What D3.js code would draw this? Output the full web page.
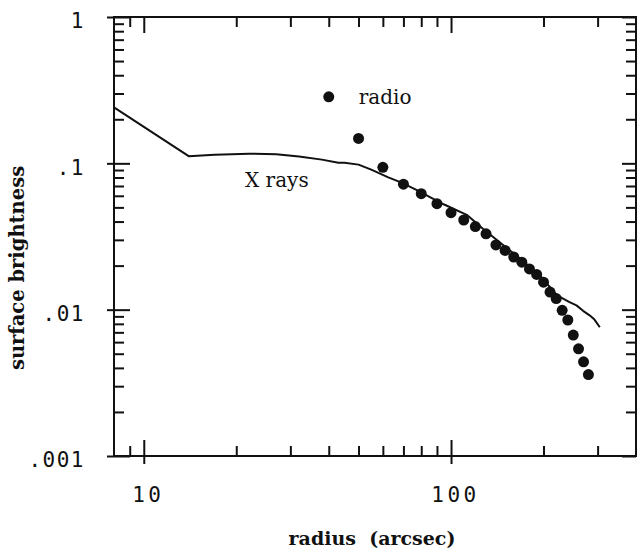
<!DOCTYPE html>
<html>
<head>
<meta charset="utf-8">
<script src="https://cdn.jsdelivr.net/npm/d3@7"></script>
<style>
  body { margin: 0; background: #fff; }
  svg { display: block; }
  .tick text { font-family: "DejaVu Sans Mono", monospace; font-size: 21px; fill: #111; }
  .tick line { stroke: #111; stroke-width: 2; }
  .domain { display: none; }
</style>
</head>
<body>
<script>
// radius in arcsec, surface brightness (normalised)
var radioR = [40, 50, 60, 70, 80, 90, 100, 110, 120, 130, 140, 150, 160, 170,
              180, 190, 200, 210, 220, 230, 240, 250, 260, 270, 280];
var radioS = [0.285, 0.148, 0.094, 0.072, 0.062, 0.053, 0.046, 0.041, 0.037, 0.033,
              0.0277, 0.0254, 0.0229, 0.0211, 0.019, 0.0174, 0.0154, 0.0132, 0.0119,
              0.0099, 0.0085, 0.0067, 0.0054, 0.0044, 0.0036];

var xrayR = [8, 14, 17, 22, 27, 32, 38, 43, 45, 50, 55, 62.5, 69, 78, 86, 95,
             112.5, 127, 146, 168, 181, 195, 207.5, 221.5, 243, 256, 269, 282.5, 293, 305];
var xrayS = [0.241, 0.112, 0.1146, 0.1164, 0.1155, 0.1115, 0.106, 0.101, 0.101, 0.098,
             0.0905, 0.0802, 0.0738, 0.0651, 0.0583, 0.0523, 0.0445, 0.0357, 0.0282,
             0.0223, 0.0195, 0.0171, 0.01466, 0.01252, 0.01127, 0.0107, 0.00982,
             0.00915, 0.00855, 0.00758];

var xMajor = [10, 100],
    xLabels = ["10", "100"],
    xMinor = [9, 20, 30, 40, 50, 60, 70, 80, 90, 200, 300];
var yMajor = [0.001, 0.01, 0.1, 1],
    yLabels = [".001", ".01", ".1", "1"],
    yMinor = [0.002, 0.003, 0.004, 0.005, 0.006, 0.007, 0.008, 0.009,
              0.02, 0.03, 0.04, 0.05, 0.06, 0.07, 0.08, 0.09,
              0.2, 0.3, 0.4, 0.5, 0.6, 0.7, 0.8, 0.9];

var W = 639, H = 548,
    x0 = 114, x1 = 636, y0 = 17, y1 = 456;   // plot frame

var svg = d3.select('body').append('svg')
    .attr('width', W)
    .attr('height', H);

var x = d3.scaleLog().domain([8, 400]).range([x0, x1]);
var y = d3.scaleLog().domain([0.001, 1]).range([y1, y0]);

// bottom
svg.append('g').attr('transform', 'translate(0,' + y1 + ')')
    .call(d3.axisBottom(x).tickValues(xMinor).tickSize(-10).tickFormat(''));
svg.append('g').attr('transform', 'translate(0,' + y1 + ')')
    .call(d3.axisBottom(x).tickValues(xMajor).tickSize(-16).tickPadding(31)
        .tickFormat(function(d, i) { return xLabels[i]; }))
    .call(function(g) {
        g.selectAll('.tick line').attr('y1', 8);
        g.selectAll('.tick text').attr('letter-spacing', 3.5).attr('dx', 4);
    });

// top
svg.append('g').attr('transform', 'translate(0,' + y0 + ')')
    .call(d3.axisTop(x).tickValues(xMinor).tickSize(-10).tickFormat(''));
svg.append('g').attr('transform', 'translate(0,' + y0 + ')')
    .call(d3.axisTop(x).tickValues(xMajor).tickSize(-16).tickFormat(''));

// left
svg.append('g').attr('transform', 'translate(' + x0 + ',0)')
    .call(d3.axisLeft(y).tickValues(yMinor).tickSize(-10).tickFormat(''));
svg.append('g').attr('transform', 'translate(' + x0 + ',0)')
    .call(d3.axisLeft(y).tickValues(yMajor).tickSize(-16).tickPadding(29)
        .tickFormat(function(d, i) { return yLabels[i]; }))
    .call(function(g) {
        g.selectAll('.tick line').attr('x1', -7);
        g.selectAll('.tick text').attr('letter-spacing', 1.5).attr('dy', '0.51em');
    });

// right
svg.append('g').attr('transform', 'translate(' + x1 + ',0)')
    .call(d3.axisRight(y).tickValues(yMinor).tickSize(-10).tickFormat(''));
svg.append('g').attr('transform', 'translate(' + x1 + ',0)')
    .call(d3.axisRight(y).tickValues(yMajor).tickSize(-14).tickFormat(''));

// frame
svg.append('rect')
    .attr('x', x0).attr('y', y0)
    .attr('width', x1 - x0).attr('height', y1 - y0)
    .attr('fill', 'none').attr('stroke', '#111').attr('stroke-width', 2);

// X-ray profile
var line = d3.line()
    .x(function(d, i) { return x(xrayR[i]); })
    .y(function(d, i) { return y(xrayS[i]); });

svg.append('path')
    .datum(xrayR)
    .attr('d', line)
    .attr('fill', 'none')
    .attr('stroke', '#111')
    .attr('stroke-width', 2)
    .attr('stroke-linejoin', 'round');

// radio points
svg.selectAll('.pt')
    .data(radioR)
    .enter().append('circle')
        .attr('class', 'pt')
        .attr('cx', function(d) { return x(d); })
        .attr('cy', function(d, i) { return y(radioS[i]); })
        .attr('r', 5.5)
        .attr('fill', '#111');

// annotations
svg.append('text')
    .attr('x', x(radioR[0]) + 30).attr('y', y(radioS[0]) + 7)
    .attr('font-family', 'DejaVu Serif').attr('font-size', 20)
    .attr('fill', '#111')
    .text('radio');

svg.append('text')
    .attr('x', 245).attr('y', 187)
    .attr('font-family', 'DejaVu Serif').attr('font-size', 20)
    .attr('fill', '#111')
    .text('X rays');

// axis titles
svg.append('text')
    .attr('x', 372).attr('y', 545)
    .attr('text-anchor', 'middle')
    .attr('font-family', 'DejaVu Serif').attr('font-weight', 'bold').attr('font-size', 19)
    .attr('fill', '#111')
    .style('white-space', 'pre')
    .text('radius  (arcsec)');

svg.append('text')
    .attr('transform', 'translate(24,' + 268 + ')rotate(-90)')
    .attr('text-anchor', 'middle')
    .attr('font-family', 'DejaVu Serif').attr('font-weight', 'bold').attr('font-size', 19.5)
    .attr('fill', '#111')
    .text('surface brightness');
</script>
</body>
</html>
